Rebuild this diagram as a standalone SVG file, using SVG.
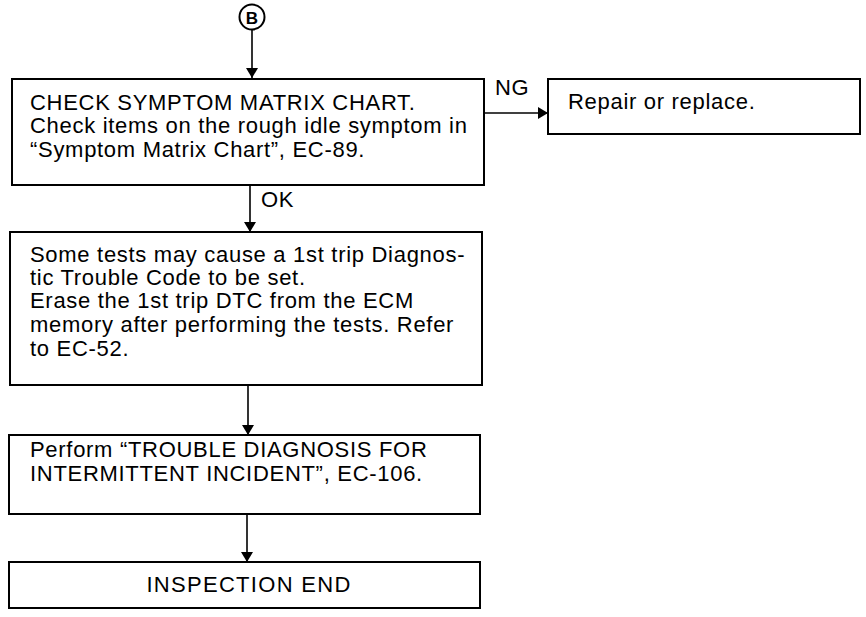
<svg xmlns="http://www.w3.org/2000/svg" width="866" height="617" viewBox="0 0 866 617">
<defs>
<marker id="ah" markerWidth="10" markerHeight="12" refX="10" refY="6" orient="auto" markerUnits="userSpaceOnUse">
<path d="M0,0 L10,6 L0,12 Z" fill="#000"/>
</marker>
<style>
.box{fill:#fff;stroke:#000;stroke-width:2}
.t{font-family:"Liberation Sans",Arial,sans-serif;font-size:22px;letter-spacing:0.7px;fill:#000}
.c{fill:none;stroke:#000;stroke-width:1.6}
</style>
</defs>
<rect width="866" height="617" fill="#fff"/>
<g id="connectorB">
<circle cx="252" cy="17" r="12.5" fill="#fff" stroke="#000" stroke-width="2"/>
<text x="252" y="23.5" text-anchor="middle" font-family="Liberation Sans,Arial,sans-serif" font-size="17" font-weight="bold">B</text>
</g>
<g id="n1">
<rect class="box" x="12" y="79" width="472" height="106"/>
<text class="t" x="30" y="110">CHECK SYMPTOM MATRIX CHART.</text>
<text class="t" x="30" y="133">Check items on the rough idle symptom in</text>
<text class="t" x="30" y="157">“Symptom Matrix Chart”, EC-89.</text>
</g>
<g id="n2">
<rect class="box" x="548" y="79" width="312" height="55"/>
<text class="t" x="568" y="109">Repair or replace.</text>
</g>
<g id="n3">
<rect class="box" x="10" y="232" width="472" height="153"/>
<text class="t" x="30" y="262">Some tests may cause a 1st trip Diagnos-</text>
<text class="t" x="30" y="285">tic Trouble Code to be set.</text>
<text class="t" x="30" y="308">Erase the 1st trip DTC from the ECM</text>
<text class="t" x="30" y="332">memory after performing the tests. Refer</text>
<text class="t" x="30" y="356">to EC-52.</text>
</g>
<g id="n4">
<rect class="box" x="9" y="435" width="471" height="79"/>
<text class="t" x="30" y="457">Perform “TROUBLE DIAGNOSIS FOR</text>
<text class="t" x="30" y="481">INTERMITTENT INCIDENT”, EC-106.</text>
</g>
<g id="n5">
<rect class="box" x="9" y="562" width="471" height="46"/>
<text class="t" x="249" y="592" text-anchor="middle" style="letter-spacing:1.3px">INSPECTION END</text>
</g>
<g id="connectors">
<line class="c" x1="252" y1="29.5" x2="252" y2="78" marker-end="url(#ah)"/>
<line class="c" x1="484" y1="113" x2="548" y2="113" marker-end="url(#ah)"/>
<text class="t" x="495" y="95">NG</text>
<line class="c" x1="250" y1="185" x2="250" y2="232" marker-end="url(#ah)"/>
<text class="t" x="261" y="207">OK</text>
<line class="c" x1="248" y1="385" x2="248" y2="435" marker-end="url(#ah)"/>
<line class="c" x1="247" y1="514" x2="247" y2="562" marker-end="url(#ah)"/>
</g>
</svg>
